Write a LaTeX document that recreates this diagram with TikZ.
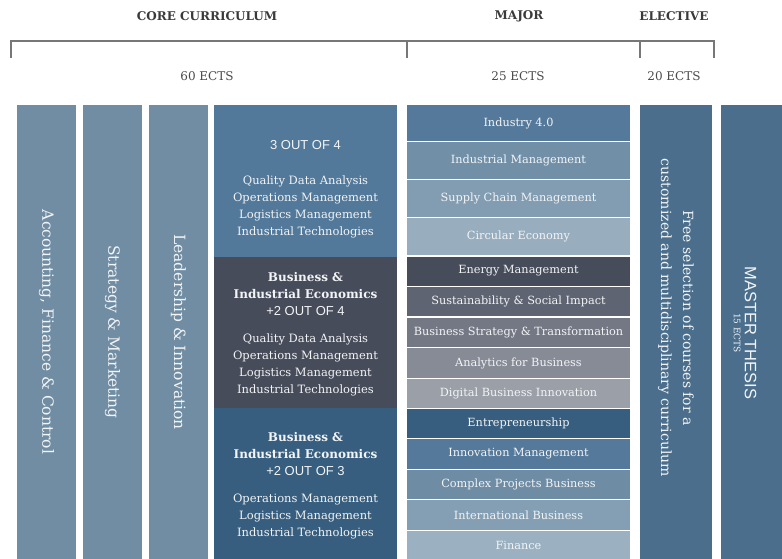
\documentclass[tikz,border=0pt]{standalone}
\usepackage{fontspec}
\setmainfont{DejaVu Serif}
\setsansfont{Liberation Sans}
\definecolor{headgrey}{HTML}{3A3A3A}
\definecolor{ectsgrey}{HTML}{4A4A4A}
\definecolor{bracketgrey}{HTML}{777777}
\definecolor{txtwhite}{HTML}{F2F4F6}
\definecolor{colgrey}{HTML}{708DA3}
\definecolor{coreA}{HTML}{52789A}
\definecolor{coreB}{HTML}{474C5A}
\definecolor{coreC}{HTML}{375E7E}
\definecolor{mA}{HTML}{55799A}
\definecolor{mB}{HTML}{7190A8}
\definecolor{mC}{HTML}{829DB2}
\definecolor{mD}{HTML}{98AEBF}
\definecolor{mE}{HTML}{474C5A}
\definecolor{mF}{HTML}{5E6471}
\definecolor{mG}{HTML}{737884}
\definecolor{mH}{HTML}{878B96}
\definecolor{mI}{HTML}{9B9FA8}
\definecolor{mJ}{HTML}{375E7E}
\definecolor{mK}{HTML}{55799A}
\definecolor{mL}{HTML}{6E8CA4}
\definecolor{mM}{HTML}{849FB3}
\definecolor{mN}{HTML}{9BB1C1}
\definecolor{elect}{HTML}{4A6E8C}
\newcommand\mrow[5]{\node[mrowbox, fill=#4, minimum height={(#3-#2)*1pt}] (#1) at (518.5,{(#2+#3)/2}) {#5};}
\begin{document}
\begin{tikzpicture}[x=1pt,y=-1pt,
  headtxt/.style={text=headgrey, font=\fontsize{12}{14}\selectfont\bfseries, inner sep=0pt},
  ectstxt/.style={text=ectsgrey, font=\fontsize{12}{14}\selectfont, inner sep=0pt},
  bracket/.style={draw=bracketgrey, line width=1.4pt},
  colbox/.style={inner sep=0pt, outer sep=0pt, minimum height=454pt},
  coltxt/.style={text=txtwhite, inner sep=0pt, rotate=-90, font=\fontsize{15.5}{18}\selectfont},
  corebox/.style={inner sep=0pt, outer sep=0pt, minimum width=183pt, text=txtwhite, align=center, font=\fontsize{11.5}{17}\selectfont},
  mrowbox/.style={inner sep=0pt, outer sep=0pt, minimum width=223pt, text=txtwhite, font=\fontsize{11.3}{13}\selectfont}
]
\useasboundingbox (0,0) rectangle (782,559);
\fill[white] (0,0) rectangle (782,559);

% headers
\node[headtxt] (hcore) at (207,16) {CORE CURRICULUM};
\node[headtxt] (hmaj) at (519,16) {MAJOR};
\node[headtxt] (hel) at (674,16) {ELECTIVE};

\coordinate (bl) at (11,58);
\coordinate (blt) at (11,41);
\coordinate (bm) at (407,58);
\coordinate (bmt) at (407,41);
\coordinate (be) at (640,58);
\coordinate (bet) at (640,41);
\coordinate (br) at (714,58);
\coordinate (brt) at (714,41);
\draw[bracket] (bl) -- (blt) -- (brt) -- (br);
\draw[bracket] (bmt) -- (bm);
\draw[bracket] (bet) -- (be);

\node[ectstxt] (e60) at (207,76) {60 ECTS};
\node[ectstxt] (e25) at (518,76) {25 ECTS};
\node[ectstxt] (e20) at (674,76) {20 ECTS};

% left columns
\node[colbox, fill=colgrey, minimum width=59pt] (acc) at (46.5,332) {};
\node[coltxt] (acct) at (acc.center) {Accounting, Finance \& Control};
\node[colbox, fill=colgrey, minimum width=59pt] (str) at (112.5,332) {};
\node[coltxt] (strt) at (str.center) {Strategy \& Marketing};
\node[colbox, fill=colgrey, minimum width=59pt] (lea) at (178.5,332) {};
\node[coltxt] (leat) at (lea.center) {Leadership \& Innovation};

% core column
\node[corebox, fill=coreA, minimum height=152pt] (c1) at (305.5,181) {};
\node[corebox] (c1t) at (305.5,189) {{\sffamily\fontsize{13}{15}\selectfont 3 OUT OF 4}\\[18pt]
  Quality Data Analysis\\Operations Management\\Logistics Management\\Industrial Technologies};
\node[corebox, fill=coreB, minimum height=151pt] (c2) at (305.5,332.5) {};
\node[corebox] (c2t) at (305.5,334.5) {{\bfseries\fontsize{12}{16}\selectfont Business \&}\\
  {\bfseries\fontsize{12}{16}\selectfont Industrial Economics}\\
  {\sffamily\fontsize{13}{15}\selectfont +2 OUT OF 4}\\[10pt]
  Quality Data Analysis\\Operations Management\\Logistics Management\\Industrial Technologies};
\node[corebox, fill=coreC, minimum height=151pt] (c3) at (305.5,483.5) {};
\node[corebox] (c3t) at (305.5,485.5) {{\bfseries\fontsize{12}{16}\selectfont Business \&}\\
  {\bfseries\fontsize{12}{16}\selectfont Industrial Economics}\\
  {\sffamily\fontsize{13}{15}\selectfont +2 OUT OF 3}\\[10pt]
  Operations Management\\Logistics Management\\Industrial Technologies};

% major column
\mrow{m1}{105}{141}{mA}{Industry 4.0}
\mrow{m2}{142}{179}{mB}{Industrial Management}
\mrow{m3}{180}{217}{mC}{Supply Chain Management}
\mrow{m4}{218}{255}{mD}{Circular Economy}
\mrow{m5}{256.5}{285.5}{mE}{Energy Management}
\mrow{m6}{287}{316}{mF}{Sustainability \& Social Impact}
\mrow{m7}{317.5}{347}{mG}{Business Strategy \& Transformation}
\mrow{m8}{348}{378}{mH}{Analytics for Business}
\mrow{m9}{379}{408}{mI}{Digital Business Innovation}
\mrow{m10}{409}{438}{mJ}{Entrepreneurship}
\mrow{m11}{439}{469}{mK}{Innovation Management}
\mrow{m12}{470}{499}{mL}{Complex Projects Business}
\mrow{m13}{500}{530}{mM}{International Business}
\mrow{m14}{531}{559}{mN}{Finance}

% elective
\node[colbox, fill=elect, minimum width=72pt] (ele) at (676,332) {};
\node[coltxt, align=center, font=\fontsize{14}{22}\selectfont] (elet) at (676,318) {Free selection of courses for a\\customized and multidisciplinary curriculum};

% thesis
\node[colbox, fill=elect, minimum width=61pt] (the) at (751.5,332) {};
\node[coltxt, align=center] (thet) at (745,333) {{\sffamily\fontsize{16.5}{15}\selectfont MASTER THESIS}\\[-7pt]{\fontsize{9}{10}\selectfont 15 ECTS}};
\end{tikzpicture}
\end{document}
